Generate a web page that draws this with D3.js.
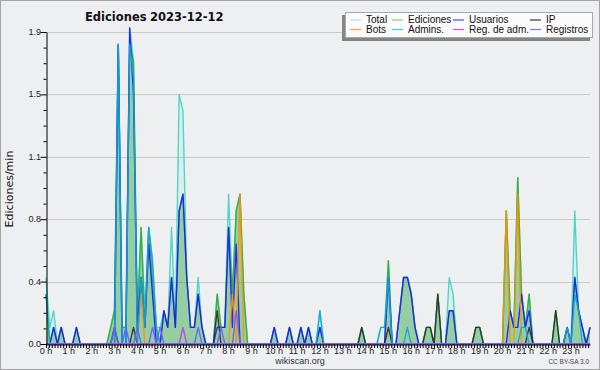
<!DOCTYPE html>
<meta charset="utf-8">
<style>
body { margin: 0; background: #fff; }
svg { display: block; font-family: "Liberation Sans", Arial, sans-serif; }
</style>
<svg width="600" height="370"></svg>
<script src="https://cdn.jsdelivr.net/npm/d3@7"></script>
<script>

// one value per 10 minute slot (edits/min), 0 h .. 23 h 50
var total = [
  0.4,0.1,0.2,0,0.1,0, 0,0,0.1,0,0,0, 0,0,0,0,0,0.1, 0.2,1.8,0.1,0.1,1.9,1.7,
  0.2,0.7,0.2,0.7,0.5,0.1, 0.1,0.2,0.1,0.7,0.1,1.5, 1.4,0.4,0.1,0.1,0.4,0.1, 0,0,0,0.3,0.1,0.1,
  0.9,0.3,0.8,0.9,0.3,0, 0,0,0,0,0,0, 0.1,0,0,0,0.1,0, 0,0.1,0,0.1,0,0,
  0.2,0,0,0,0,0, 0,0,0,0,0,0.1, 0,0,0,0,0.1,0.1, 0.5,0,0,0.2,0.4,0.4,
  0.3,0.1,0,0,0.1,0.1, 0,0.3,0,0,0.4,0.3, 0,0,0,0,0,0.1, 0.1,0,0,0,0,0,
  0,0.8,0.2,0.1,1.0,0.3, 0.1,0.3,0,0,0,0, 0,0,0.2,0,0,0.1, 0,0.8,0.2,0.1,0,0.1
];
var ediciones = [
  0.3,0,0.1,0,0.1,0, 0,0,0.1,0,0,0, 0,0,0,0,0,0.1, 0.2,1.8,0.1,0.1,1.8,1.7,
  0.1,0.7,0.1,0.7,0.4,0.1, 0,0.2,0.1,0.4,0.1,0.8, 0.9,0.4,0.1,0.1,0.3,0.1, 0,0,0,0.3,0.1,0.1,
  0.7,0.3,0.8,0.9,0.3,0, 0,0,0,0,0,0, 0.1,0,0,0,0.1,0, 0,0.1,0,0.1,0,0,
  0.1,0,0,0,0,0, 0,0,0,0,0,0.1, 0,0,0,0,0,0, 0.5,0,0,0.2,0.4,0.4,
  0.3,0.1,0,0,0.1,0.1, 0,0.3,0,0,0.2,0.2, 0,0,0,0,0,0.1, 0.1,0,0,0,0,0,
  0,0.8,0.2,0.1,1.0,0.3, 0.1,0.3,0,0,0,0, 0,0,0.2,0,0,0.1, 0,0.4,0.2,0.1,0,0.1
];
var usuarios = [
  0,0,0.1,0,0.1,0, 0,0,0.1,0,0,0, 0,0,0,0,0,0, 0,1.8,0,0,1.9,1.5,
  0.1,0.4,0.1,0.6,0.3,0, 0,0.2,0.1,0.4,0.1,0.8, 0.9,0.4,0.1,0.1,0.3,0.1, 0,0,0,0.1,0.1,0.1,
  0.7,0.1,0.6,0,0,0, 0,0,0,0,0,0, 0.1,0,0,0,0.1,0, 0,0.1,0,0.1,0,0,
  0.1,0,0,0,0,0, 0,0,0,0,0,0, 0,0,0,0,0,0, 0.4,0,0,0.2,0.4,0.4,
  0.3,0.1,0,0,0,0, 0,0,0,0,0.2,0.2, 0,0,0,0,0,0, 0,0,0,0,0,0,
  0,0,0.2,0.1,0.1,0.3, 0.1,0.2,0,0,0,0, 0,0,0,0,0,0.1, 0,0.4,0.2,0.1,0,0.1
];
var ip = [
  0,0,0,0,0,0, 0,0,0,0,0,0, 0,0,0,0,0,0, 0.1,0,0,0,0,0.1,
  0,0,0,0,0,0, 0,0,0,0,0,0, 0,0,0,0,0,0, 0,0,0,0.2,0,0,
  0,0,0,0,0,0, 0,0,0,0,0,0, 0,0,0,0,0,0, 0,0,0,0,0,0,
  0,0,0,0,0,0, 0,0,0,0,0,0.1, 0,0,0,0,0,0, 0.1,0,0,0,0,0,
  0,0,0,0,0.1,0.1, 0,0.3,0,0,0,0, 0,0,0,0,0,0.1, 0.1,0,0,0,0,0,
  0,0,0,0,0,0, 0,0.1,0,0,0,0, 0,0,0.2,0,0,0, 0,0,0,0,0,0
];
var bots = [
  0,0,0,0,0,0, 0,0,0,0,0,0, 0,0,0,0,0,0, 0,0,0,0,0,0,
  0,0.3,0,0,0,0, 0,0,0,0,0,0, 0,0,0,0,0,0, 0,0,0,0,0,0,
  0,0.3,0,0.9,0,0, 0,0,0,0,0,0, 0,0,0,0,0,0, 0,0,0,0,0,0,
  0,0,0,0,0,0, 0,0,0,0,0,0, 0,0,0,0,0,0, 0,0,0,0,0,0,
  0,0,0,0,0,0, 0,0,0,0,0,0, 0,0,0,0,0,0, 0,0,0,0,0,0,
  0,0.8,0,0,0.9,0, 0,0,0,0,0,0, 0,0,0,0,0,0, 0,0,0,0,0,0
];
var admins = [
  0.3,0,0,0,0,0, 0,0,0,0,0,0, 0,0,0,0,0,0, 0,1.8,0,0,1.8,1.6,
  0,0.4,0.1,0.7,0.5,0.1, 0,0,0,0,0,0, 0,0,0,0,0,0, 0,0,0,0,0,0,
  0,0,0,0,0,0, 0,0,0,0,0,0, 0,0,0,0,0,0, 0,0,0,0,0,0,
  0.2,0,0,0,0,0, 0,0,0,0,0,0, 0,0,0,0,0.1,0.1, 0.4,0,0,0,0,0.1,
  0,0,0,0,0,0, 0,0,0,0,0,0, 0,0,0,0,0,0, 0,0,0,0,0,0,
  0,0,0,0,0,0.1, 0.1,0,0,0,0,0, 0,0,0,0,0,0.1, 0,0.3,0.2,0,0,0
];
var regAdm = [
  0,0,0,0,0,0, 0,0,0,0,0,0, 0,0,0,0,0,0, 0,0,0,0,0,0,
  0,0,0,0,0,0, 0,0,0,0,0,0, 0.1,0,0,0,0,0, 0,0,0,0,0,0,
  0,0,0,0,0,0, 0,0,0,0,0,0, 0,0,0,0,0,0, 0,0,0,0,0,0,
  0,0,0,0,0,0, 0,0,0,0,0,0, 0,0,0,0,0,0, 0,0,0,0,0,0,
  0,0,0,0,0,0, 0,0,0,0,0,0, 0,0,0,0,0,0, 0,0,0,0,0,0,
  0,0,0,0,0,0, 0,0,0,0,0,0, 0,0,0,0,0,0, 0,0,0,0,0,0
];
var registros = [
  0,0,0,0,0,0, 0,0,0,0,0,0, 0,0,0,0,0,0, 0.1,0,0,0.1,0,0,
  0.1,0,0,0,0.1,0, 0.1,0,0,0,0,0, 0,0,0,0,0.1,0, 0,0,0,0,0.1,0,
  0,0,0.2,0,0,0, 0,0,0,0,0,0, 0,0,0,0,0,0, 0,0,0,0,0,0,
  0,0,0,0,0,0, 0,0,0,0,0,0, 0,0,0,0,0,0, 0,0,0,0,0,0,
  0,0,0,0,0,0, 0,0,0,0,0,0, 0,0,0,0,0,0, 0,0,0,0,0,0,
  0,0,0,0,0,0, 0,0,0,0,0,0, 0,0,0,0,0,0, 0,0,0,0,0,0
];

var hourLabels = ["0 h","1 h","2 h","3 h","4 h","5 h","6 h","7 h","8 h","9 h","10 h","11 h",
  "12 h","13 h","14 h","15 h","16 h","17 h","18 h","19 h","20 h","21 h","22 h","23 h"];
var yTickValues = [0, 0.375, 0.75, 1.125, 1.5, 1.875];
var yTickLabels = ["0.0", "0.4", "0.8", "1.1", "1.5", "1.9"];

var series = [
  { name: "Total",        values: total,     color: "#3ed3c4", area: "rgba(80,225,210,0.12)" },
  { name: "Ediciones",    values: ediciones, color: "#3aaa3a", area: "rgba(60,165,60,0.43)" },
  { name: "Usuarios",     values: usuarios,  color: "#1a1aff" },
  { name: "IP",           values: ip,        color: "#2c2c2c" },
  { name: "Bots",         values: bots,      color: "#ff9000" },
  { name: "Admins.",      values: admins,    color: "#12a6dc" },
  { name: "Reg. de adm.", values: regAdm,    color: "#c33ee8" },
  { name: "Registros",    values: registros, color: "#6262ff" }
];
var legendOrder = ["Total", "Ediciones", "Usuarios", "IP", "Bots", "Admins.", "Reg. de adm.", "Registros"];
var legendColors = {
  "Total": "#a6e6e4", "Ediciones": "#7fd07f", "Usuarios": "#4a4aff", "IP": "#3a3a3a",
  "Bots": "#ffa030", "Admins.": "#3ccce0", "Reg. de adm.": "#d84cff", "Registros": "#7a7aff"
};

var svg = d3.select("svg");

svg.append("rect")
    .attr("x", 0.5).attr("y", 0.5)
    .attr("width", 599).attr("height", 369)
    .attr("fill", "#eeeff1")
    .attr("stroke", "#a4a4a4");

var x = d3.scaleLinear().domain([0, 1430]).range([46, 590]);
var y = d3.scaleLinear().domain([0, 1.875]).range([344, 32]);

// grid
svg.append("g")
    .selectAll("line")
    .data(yTickValues.slice(1))
    .enter().append("line")
      .attr("x1", 46).attr("x2", 590)
      .attr("y1", function(d) { return Math.round(y(d)) + 0.5; })
      .attr("y2", function(d) { return Math.round(y(d)) + 0.5; })
      .attr("stroke", "#cacaca");

var area = d3.area()
    .x(function(d, i) { return x(i * 10); })
    .y0(y(0))
    .y1(function(d) { return y(d); });

var line = d3.line()
    .x(function(d, i) { return x(i * 10); })
    .y(function(d) { return y(d); });

var plot = svg.append("g");

series.forEach(function(s) {
  if (s.area) {
    plot.append("path")
        .attr("d", area(s.values))
        .attr("fill", s.area);
  }
});

series.forEach(function(s) {
  plot.append("path")
      .attr("d", line(s.values))
      .attr("fill", "none")
      .attr("stroke", s.color)
      .attr("stroke-width", 1.4)
      .attr("stroke-linejoin", "round")
      .attr("stroke-opacity", 0.9);
});

// y axis
var yAxis = svg.append("g").attr("transform", "translate(46.5,0)");
yAxis.call(d3.axisLeft(y)
    .tickValues(d3.range(0, 1.876, 0.09375))
    .tickSize(3)
    .tickSizeOuter(0)
    .tickFormat(""));
yAxis.call(function(g) {
  g.selectAll(".tick").filter(function(d, i) { return i % 4 === 0; })
      .select("line").attr("x2", -6);
  g.selectAll(".tick line").attr("stroke", "#000");
  g.select(".domain").attr("stroke", "#000");
});

svg.append("g")
    .selectAll("text")
    .data(yTickValues)
    .enter().append("text")
      .attr("x", 41)
      .attr("y", function(d) { return y(d) + 3; })
      .attr("text-anchor", "end")
      .style("font-size", "9px")
      .style("fill", "#222")
      .text(function(d, i) { return yTickLabels[i]; });

// x axis
var xAxis = svg.append("g").attr("transform", "translate(0,344.5)");
xAxis.call(d3.axisBottom(x)
    .tickValues(d3.range(0, 1431, 7.5))
    .tickSize(3.5)
    .tickSizeOuter(0)
    .tickFormat(""));
xAxis.selectAll(".tick line").attr("stroke", "#000");
xAxis.select(".domain").attr("stroke", "#000");

svg.append("g")
    .selectAll("text")
    .data(hourLabels)
    .enter().append("text")
      .attr("x", function(d, i) { return x(i * 60); })
      .attr("y", 354)
      .attr("text-anchor", "middle")
      .style("font-size", "9px")
      .style("fill", "#222")
      .text(function(d) { return d; });

// titles
svg.append("text")
    .attr("x", 85).attr("y", 21)
    .style("font-family", "'DejaVu Sans', sans-serif")
    .style("font-weight", "bold")
    .style("font-size", "11.5px")
    .style("fill", "#111")
    .text("Ediciones");
svg.append("text")
    .attr("x", 150).attr("y", 21)
    .style("font-family", "'DejaVu Sans', sans-serif")
    .style("font-weight", "bold")
    .style("font-size", "11.5px")
    .style("fill", "#111")
    .text("2023-12-12");

svg.append("text")
    .attr("transform", "translate(13,189) rotate(-90)")
    .attr("text-anchor", "middle")
    .style("font-family", "'DejaVu Sans', sans-serif")
    .style("font-size", "11px")
    .style("fill", "#111")
    .text("Ediciones/min");

svg.append("text")
    .attr("x", 300).attr("y", 364)
    .attr("text-anchor", "middle")
    .style("font-size", "9px")
    .style("fill", "#333")
    .text("wikiscan.org");

svg.append("text")
    .attr("x", 589).attr("y", 364)
    .attr("text-anchor", "end")
    .style("font-size", "6.5px")
    .style("fill", "#444")
    .text("CC BY-SA 3.0");

// legend
var legend = svg.append("g");
legend.append("rect")
    .attr("x", 342).attr("y", 15)
    .attr("width", 248).attr("height", 26)
    .attr("fill", "#858585");
legend.append("rect")
    .attr("x", 345.5).attr("y", 12.5)
    .attr("width", 247).attr("height", 25)
    .attr("fill", "#fbfbfb")
    .attr("stroke", "#a8a8a8");

var colX = [350, 392, 453, 530];
var rowY = [19.5, 29];

var item = legend.selectAll("g.item")
    .data(legendOrder)
    .enter().append("g")
      .attr("class", "item")
      .attr("transform", function(d, i) {
        return "translate(" + colX[i % 4] + "," + rowY[Math.floor(i / 4)] + ")";
      });

item.append("line")
    .attr("x1", 0).attr("x2", 11)
    .attr("y1", 0.5).attr("y2", 0.5)
    .attr("stroke", function(d) { return legendColors[d]; })
    .attr("stroke-width", 1.2);

item.append("text")
    .attr("x", 16).attr("y", 3.5)
    .style("font-size", "10px")
    .style("fill", "#111")
    .text(function(d) { return d; });

</script>
